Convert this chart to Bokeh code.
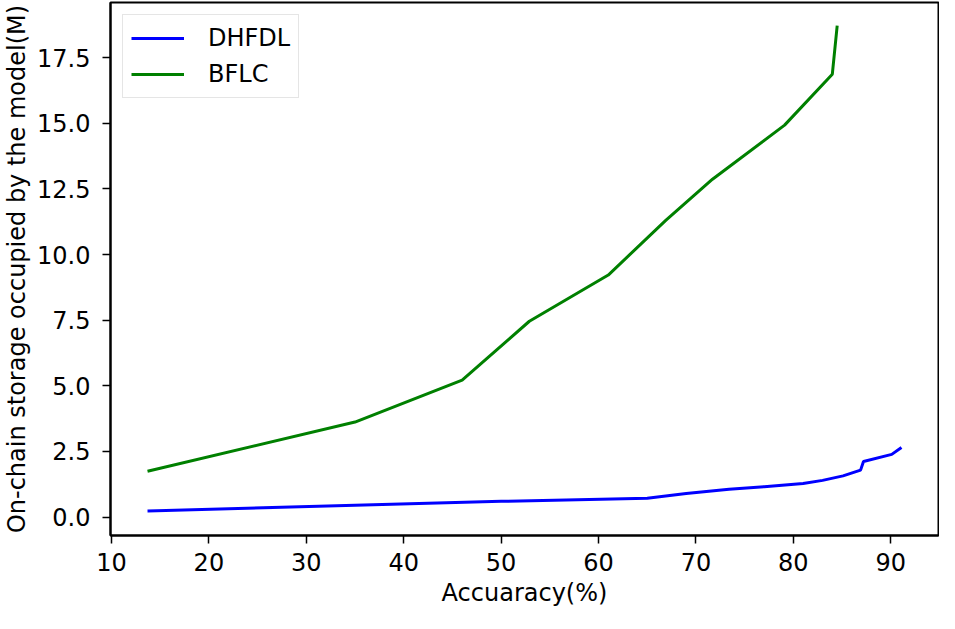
from bokeh.plotting import figure
from bokeh.models import FixedTicker, PrintfTickFormatter, Range1d, Legend, LegendItem
from bokeh.embed import file_html
from bokeh.resources import INLINE

# Data
dhfdl_x = [13.7, 35.0, 50.0, 65.0, 69.0, 73.4, 77.0, 81.0, 83.0, 85.1, 86.9, 87.2, 90.1, 91.1]
dhfdl_y = [0.23, 0.45, 0.60, 0.72, 0.90, 1.06, 1.16, 1.28, 1.40, 1.57, 1.79, 2.12, 2.39, 2.65]

bflc_x = [13.7, 35.0, 46.0, 52.9, 61.0, 66.9, 71.7, 79.1, 84.0, 84.5]
bflc_y = [1.75, 3.62, 5.22, 7.46, 9.22, 11.3, 12.87, 14.93, 16.87, 18.72]

x_ticks = [10, 20, 30, 40, 50, 60, 70, 80, 90]
y_ticks = [0.0, 2.5, 5.0, 7.5, 10.0, 12.5, 15.0, 17.5]

FONT = "DejaVu Sans"

p = figure(width=939, height=613, output_backend="svg", toolbar_location=None,
           x_range=Range1d(9.9, 94.9), y_range=Range1d(-0.7, 19.6),
           min_border_left=103, min_border_right=1, min_border_top=2, min_border_bottom=78)

p.xgrid.visible = False
p.ygrid.visible = False
p.background_fill_color = "white"
p.border_fill_color = "white"
p.outline_line_color = "black"
p.outline_line_width = 2
p.outline_line_alpha = 1.0

r1 = p.line(dhfdl_x, dhfdl_y, line_color="#0000ff", line_width=3)
r2 = p.line(bflc_x, bflc_y, line_color="#008000", line_width=3)

for ax in (p.xaxis[0], p.yaxis[0]):
    ax.axis_line_color = "black"
    ax.axis_line_width = 2
    ax.major_tick_line_color = "black"
    ax.major_tick_line_width = 1.5
    ax.major_tick_out = 8
    ax.major_tick_in = 0
    ax.minor_tick_line_color = None
    ax.major_label_text_font = FONT
    ax.major_label_text_font_size = "24px"
    ax.major_label_text_color = "black"
    ax.axis_label_text_font = FONT
    ax.axis_label_text_font_size = "24px"
    ax.axis_label_text_font_style = "normal"
    ax.axis_label_text_color = "black"

p.xaxis.ticker = FixedTicker(ticks=x_ticks)
p.yaxis.ticker = FixedTicker(ticks=y_ticks)
p.yaxis.formatter = PrintfTickFormatter(format="%.1f")
p.xaxis.axis_label = "Accuaracy(%)"
p.yaxis.axis_label = "On-chain storage occupied by the model(M)"
p.xaxis.major_label_standoff = 9
p.yaxis.major_label_standoff = 12
p.xaxis.axis_label_standoff = 5
p.yaxis.axis_label_standoff = 3

legend = Legend(items=[LegendItem(label="DHFDL", renderers=[r1]),
                       LegendItem(label="BFLC", renderers=[r2])],
                location="top_left")
legend.margin = 12
legend.padding = 8
legend.spacing = 6
legend.glyph_width = 53
legend.glyph_height = 30
legend.label_standoff = 24
legend.label_text_font = FONT
legend.label_text_font_size = "24px"
legend.label_text_color = "black"
legend.border_line_color = "#cccccc"
legend.border_line_width = 1.5
legend.background_fill_alpha = 0.8
p.add_layout(legend)

open("out.html", "w").write(file_html(p, INLINE))
